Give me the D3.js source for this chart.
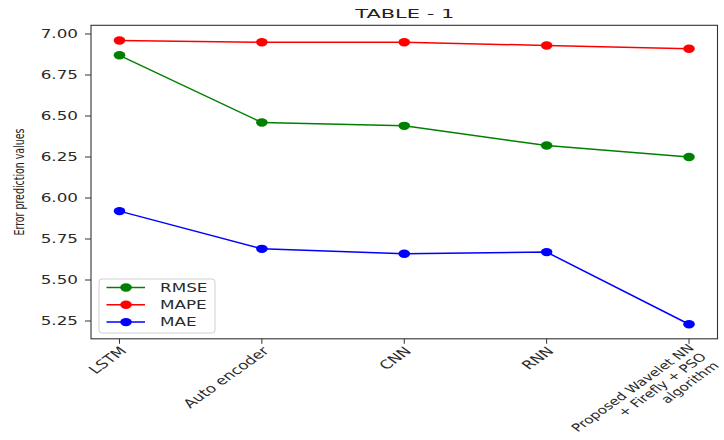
<!DOCTYPE html>
<html><head><meta charset="utf-8">
<script src="https://cdn.jsdelivr.net/npm/d3@7/dist/d3.min.js"></script>
<style>body{margin:0;background:#fff}svg{display:block}</style>
</head><body>
<script>
const categories = ["LSTM", "Auto encoder", "CNN", "RNN", "Proposed Wavelet NN\n+ Firefly + PSO\nalgorithm"];
const rmse = [6.87, 6.46, 6.44, 6.32, 6.25];
const mape = [6.96, 6.95, 6.95, 6.93, 6.91];
const mae  = [5.92, 5.69, 5.66, 5.67, 5.23];
const yTicks = [5.25, 5.50, 5.75, 6.00, 6.25, 6.50, 6.75, 7.00];
const seriesNames = ["RMSE", "MAPE", "MAE"];
const seriesColors = ["#008000", "#ff0000", "#0000ff"];
const title = "TABLE - 1";
const yLabel = "Error prediction values";

const W = 724, H = 440, SX = 1.4;
const plot = {l: 91, r: 717.5, t: 25.3, b: 338.8};
const svg = d3.select("body").append("svg").attr("width", W).attr("height", H);

const x = d3.scalePoint().domain(categories).range([plot.l, plot.r]).padding(0.2);
const y = d3.scaleLinear().domain([5.1415, 7.053]).range([plot.b, plot.t]);
const txt = "#2a2a2a";
const font = "DejaVu Sans";

// title
svg.append("text").attr("x", (plot.l + plot.r) / 2 + 0.5).attr("y", 18)
  .attr("text-anchor", "middle").attr("font-family", font).attr("font-size", 13)
  .attr("fill", "#222").attr("textLength", 99).attr("lengthAdjust", "spacingAndGlyphs")
  .text(title);

// y axis ticks
const yt = svg.append("g");
yTicks.forEach(v => {
  yt.append("line").attr("x1", plot.l - 6).attr("x2", plot.l).attr("y1", y(v)).attr("y2", y(v))
    .attr("stroke", "#333").attr("stroke-width", 1);
  yt.append("text").attr("transform", `translate(${plot.l - 13},${y(v)}) scale(${SX},1)`)
    .attr("text-anchor", "end").attr("dy", "0.36em").attr("font-family", font)
    .attr("font-size", 12).attr("fill", txt).text(v.toFixed(2));
});

// x axis ticks
const xt = svg.append("g");
categories.forEach(c => {
  xt.append("line").attr("x1", x(c)).attr("x2", x(c)).attr("y1", plot.b).attr("y2", plot.b + 5)
    .attr("stroke", "#333").attr("stroke-width", 1);
  const lines = c.split("\n");
  const multi = lines.length > 1;
  const t = xt.append("text")
    .attr("transform", `translate(${x(c) + (multi ? 6 : 8)},${plot.b + (multi ? 10 : 13)}) scale(${SX},1) rotate(-45)`)
    .attr("text-anchor", "end").attr("font-family", font).attr("font-size", multi ? 11 : 12).attr("fill", txt);
  lines.forEach((ln, i) => {
    t.append("tspan").attr("x", 0).attr("y", i * 12.5).text(ln);
  });
});

// y label
svg.append("text").attr("transform", `translate(23.5,${(plot.t + plot.b) / 2}) scale(${SX},1) rotate(-90)`)
  .attr("text-anchor", "middle").attr("font-family", font).attr("font-size", 10.5)
  .attr("textLength", 107).attr("lengthAdjust", "spacingAndGlyphs")
  .attr("fill", "#222").text(yLabel);

// series
const series = [rmse, mape, mae];
series.forEach((vals, si) => {
  const line = d3.line().x((d, i) => x(categories[i])).y(d => y(d));
  svg.append("path").datum(vals).attr("d", line).attr("fill", "none")
    .attr("stroke", seriesColors[si]).attr("stroke-width", 1.5);
  svg.append("g").selectAll("ellipse").data(vals).join("ellipse")
    .attr("cx", (d, i) => x(categories[i])).attr("cy", d => y(d))
    .attr("rx", 5.8).attr("ry", 4.2).attr("fill", seriesColors[si]);
});

// frame
svg.append("rect").attr("x", plot.l).attr("y", plot.t).attr("width", plot.r - plot.l)
  .attr("height", plot.b - plot.t).attr("fill", "none").attr("stroke", "#333").attr("stroke-width", 1.1);

// legend
const lg = svg.append("g");
lg.append("rect").attr("x", 99).attr("y", 279).attr("width", 116).attr("height", 54)
  .attr("rx", 3).attr("fill", "#fff").attr("fill-opacity", 0.8).attr("stroke", "#d0d0d0");
seriesNames.forEach((n, i) => {
  const yy = 287.5 + i * 17.3;
  lg.append("line").attr("x1", 106.5).attr("x2", 145).attr("y1", yy).attr("y2", yy)
    .attr("stroke", seriesColors[i]).attr("stroke-width", 1.5);
  lg.append("ellipse").attr("cx", 126).attr("cy", yy).attr("rx", 5.8).attr("ry", 4.2)
    .attr("fill", seriesColors[i]);
  lg.append("text").attr("transform", `translate(160,${yy}) scale(${SX},1)`)
    .attr("dy", "0.36em").attr("font-family", font).attr("font-size", 12).attr("fill", txt).text(n);
});
</script>
</body></html>
